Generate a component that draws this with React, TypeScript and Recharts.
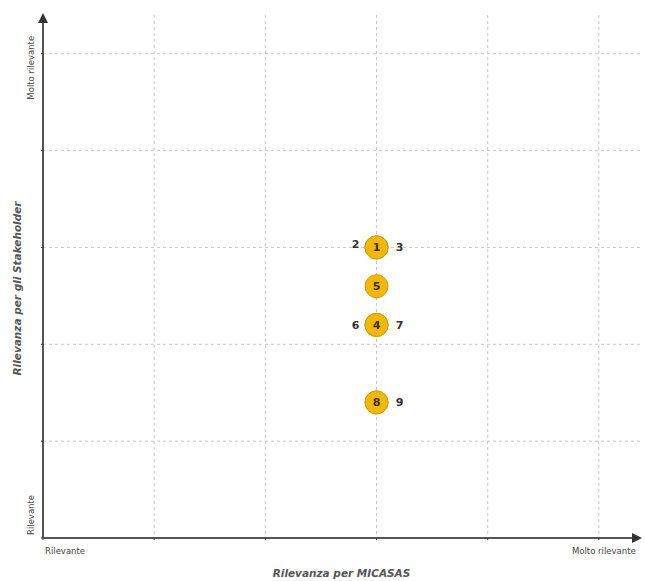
import React from 'react';
import { ScatterChart, Scatter, XAxis, YAxis, CartesianGrid } from 'recharts';

const itemLabels = ['1', '2', '3', '4', '5', '6', '7', '8', '9'];
const micasasValues = [3, 3, 3, 3, 3, 3, 3, 3, 3];
const stakeholderValues = [3, 3, 3, 2.2, 2.6, 2.2, 2.2, 1.4, 1.4];
const labelSides = ['center', 'left', 'right', 'center', 'center', 'left', 'right', 'center', 'right'];
const axisTicks = [0, 1, 2, 3, 4, 5];
const gridTicks = [1, 2, 3, 4, 5];
const xTickLabels: Record<number, string> = { 0: 'Rilevante', 5: 'Molto rilevante' };
const yTickLabels: Record<number, string> = { 0: 'Rilevante', 5: 'Molto rilevante' };

const data = itemLabels.map((id, i) => ({
  id,
  x: micasasValues[i],
  y: stakeholderValues[i],
  side: labelSides[i],
}));

const FONT = '"DejaVu Sans", sans-serif';

const XTick = (props: any) => {
  const { x, y, payload } = props;
  const label = xTickLabels[payload.value];
  if (!label) return null;
  const isStart = payload.value === 0;
  return (
    <text
      x={isStart ? x + 2 : x + 5}
      y={y + 12}
      textAnchor={isStart ? 'start' : 'middle'}
      fontSize={8.5}
      fontFamily={FONT}
      fill="#444"
    >
      {label}
    </text>
  );
};

const YTick = (props: any) => {
  const { x, y, payload } = props;
  const label = yTickLabels[payload.value];
  if (!label) return null;
  const isStart = payload.value === 0;
  const ty = isStart ? y - 3 : y + 14;
  const tx = x - 5;
  return (
    <text
      x={tx}
      y={ty}
      transform={`rotate(-90 ${tx} ${ty})`}
      textAnchor={isStart ? 'start' : 'middle'}
      fontSize={8.5}
      fontFamily={FONT}
      fill="#444"
    >
      {label}
    </text>
  );
};

const Bubble = (props: any) => {
  const { cx, cy } = props;
  return <circle cx={cx} cy={cy} r={11.5} fill="#F3B705" stroke="#D29E00" strokeWidth={1} />;
};

const BubbleLabel = (props: any) => {
  const { cx, cy, payload } = props;
  const dx = payload.side === 'left' ? -21 : payload.side === 'right' ? 23 : 0;
  const dy = payload.id === '2' ? -3 : 0;
  return (
    <text
      x={cx + dx}
      y={cy + 4 + dy}
      textAnchor="middle"
      fontSize={11}
      fontWeight={600}
      fontFamily={FONT}
      fill="#333"
    >
      {payload.id}
    </text>
  );
};

const hGen = (args: any) => {
  const s = args?.yAxis?.scale;
  if (!s) return [];
  const fn = typeof s === 'function' ? s : s.map ? (v: number) => s.map(v) : null;
  return fn ? gridTicks.map((t) => fn(t)) : [];
};
const vGen = (args: any) => {
  const s = args?.xAxis?.scale;
  if (!s) return [];
  const fn = typeof s === 'function' ? s : s.map ? (v: number) => s.map(v) : null;
  return fn ? gridTicks.map((t) => fn(t)) : [];
};

const YTitle = (props: any) => {
  const vb = props.viewBox || {};
  const cx = 17;
  const cy = (vb.y ?? 15) + (vb.height ?? 523) / 2 + 12;
  return (
    <text
      x={cx}
      y={cy}
      transform={`rotate(-90 ${cx} ${cy})`}
      textAnchor="middle"
      dominantBaseline="central"
      fontSize={10.5}
      fontStyle="italic"
      fontWeight={600}
      fontFamily={FONT}
      fill="#555"
    >
      Rilevanza per gli Stakeholder
    </text>
  );
};

const XTitle = (props: any) => {
  const vb = props.viewBox || {};
  const cx = (vb.x ?? 43) + (vb.width ?? 597) / 2;
  return (
    <text
      x={cx}
      y={577}
      textAnchor="middle"
      fontSize={10.5}
      fontStyle="italic"
      fontWeight={600}
      fontFamily={FONT}
      fill="#555"
    >
      Rilevanza per MICASAS
    </text>
  );
};

export default function App() {
  return (
    <div style={{ position: 'absolute', left: 0, top: 0, width: 645, height: 581, background: '#fff' }}>
      <ScatterChart width={645} height={581} margin={{ top: 15, right: 5, bottom: 13, left: 13 }}>
        <defs>
          <marker id="arrowHead" viewBox="0 0 10 10" refX="8" refY="5" markerWidth="5" markerHeight="5" orient="auto-start-reverse">
            <path d="M0,0 L10,5 L0,10 z" fill="#333" />
          </marker>
        </defs>
        <CartesianGrid
          stroke="#c8c8c8"
          strokeDasharray="3 3"
          horizontalCoordinatesGenerator={hGen}
          verticalCoordinatesGenerator={vGen}
        />
        <XAxis
          type="number"
          dataKey="x"
          domain={[0, 5.37]}
          ticks={axisTicks}
          tick={<XTick />}
          tickLine={{ stroke: '#333' }}
          tickSize={2}
          axisLine={{ stroke: '#555', strokeWidth: 2, markerEnd: 'url(#arrowHead)' }}
          height={30}
          label={<XTitle />}
          allowDataOverflow
        />
        <YAxis
          type="number"
          dataKey="y"
          domain={[0, 5.4]}
          ticks={axisTicks}
          tick={<YTick />}
          tickLine={{ stroke: '#333' }}
          tickSize={2}
          axisLine={{ stroke: '#555', strokeWidth: 2, markerStart: 'url(#arrowHead)' }}
          width={30}
          label={<YTitle />}
          allowDataOverflow
        />
        <Scatter data={data} shape={<Bubble />} isAnimationActive={false} />
        <Scatter data={data} shape={<BubbleLabel />} isAnimationActive={false} />
      </ScatterChart>
    </div>
  );
}
